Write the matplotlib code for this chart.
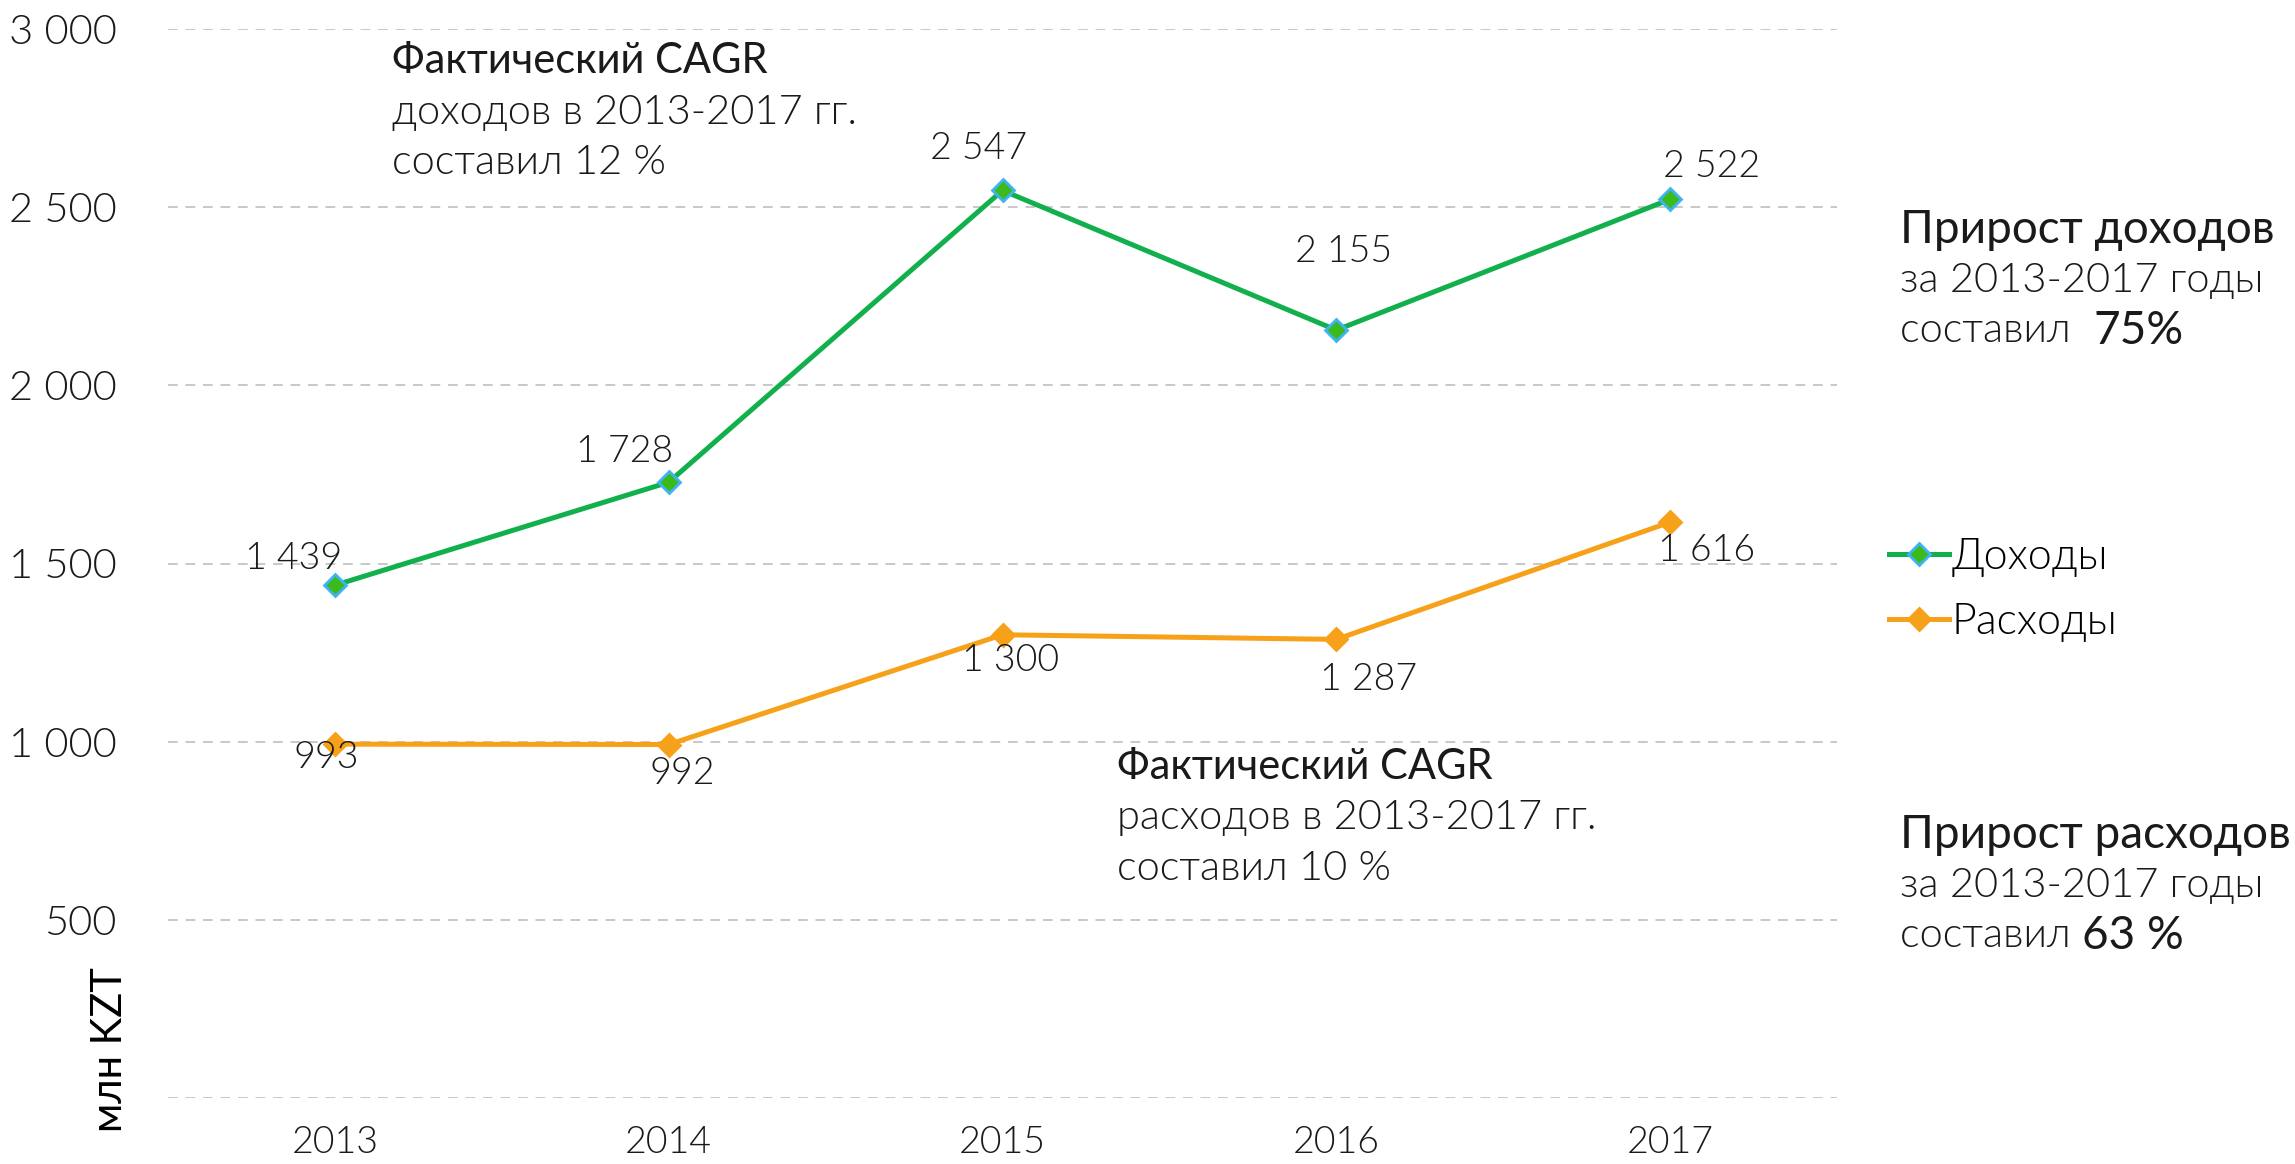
import matplotlib
matplotlib.use('Agg')
import matplotlib.pyplot as plt

plt.rcParams['font.family'] = ['Lato', 'DejaVu Sans']

YEARS = ['2013', '2014', '2015', '2016', '2017']
INCOME = [1439, 1728, 2547, 2155, 2522]
EXPENSES = [993, 992, 1300, 1287, 1616]
Y_TICKS = [0, 500, 1000, 1500, 2000, 2500, 3000]

GREEN = '#12b04c'
GREEN_FILL = '#3cba1c'
GREEN_EDGE = '#3fb4f5'
ORANGE = '#f7a11a'
GRID = '#c8c8c8'
TEXT = '#1a1a1a'
LIGHT = 300

# label offsets in points (dx, dy) for each data label
INCOME_OFFSETS = [(-30, 19), (-32, 22), (-17, 30), (5, 56), (30, 23)]
EXPENSE_OFFSETS = [(-6, -10), (10, -21), (6, -19), (23, -29), (26, -21)]

BODY_SIZE = 30
HEAD_SIZE = 33
TICK_SIZE = 30
LABEL_SIZE = 27
LEGEND_SIZE = 31


def fmt(v):
    return '{:,}'.format(v).replace(',', ' ')


fig = plt.figure(figsize=(22.95, 11.64), dpi=100)
ax = fig.add_axes([168 / 2295, 1 - 1098 / 1164, (1837 - 168) / 2295,
                   (1098 - 29) / 1164])

x = list(range(len(YEARS)))
ax.plot(x, INCOME, color=GREEN, lw=3.6, marker='D', ms=11,
        mfc=GREEN_FILL, mec=GREEN_EDGE, mew=2, label='Доходы', zorder=4)
ax.plot(x, EXPENSES, color=ORANGE, lw=3.6, marker='D', ms=11,
        mfc=ORANGE, mec=ORANGE, mew=2, label='Расходы', zorder=4)

for xi, v, off in zip(x, INCOME, INCOME_OFFSETS):
    ax.annotate(fmt(v), (xi, v), xytext=off, textcoords='offset points',
                ha='center', va='center', fontsize=LABEL_SIZE,
                fontweight=LIGHT, color=TEXT, zorder=5)
for xi, v, off in zip(x, EXPENSES, EXPENSE_OFFSETS):
    ax.annotate(fmt(v), (xi, v), xytext=off, textcoords='offset points',
                ha='center', va='center', fontsize=LABEL_SIZE,
                fontweight=LIGHT, color=TEXT, zorder=5)

ax.set_xlim(-0.5, 4.5)
ax.set_ylim(0, 3000)
ax.set_xticks(x)
ax.set_xticklabels(YEARS)
ax.set_yticks(Y_TICKS)
ax.set_yticklabels([fmt(t) if t else '' for t in Y_TICKS])
ax.tick_params(axis='both', length=0, labelsize=TICK_SIZE, colors=TEXT)
ax.tick_params(axis='x', labelsize=27)
ax.tick_params(axis='y', pad=37)
ax.tick_params(axis='x', pad=20)
for lbl in ax.get_xticklabels() + ax.get_yticklabels():
    lbl.set_fontweight(LIGHT)
ax.grid(axis='y', color=GRID, ls=(0, (5, 4)), lw=1.4)
ax.set_axisbelow(True)
for s in ax.spines.values():
    s.set_visible(False)

fig.text(75 / 1568, 1 - 717 / 795, 'млн KZT', rotation=90, ha='center',
         va='center', fontsize=BODY_SIZE, color='black')

fig.legend(loc='center left', bbox_to_anchor=(1264 / 1568, 1 - 403 / 795),
           frameon=False, handlelength=1.4, handletextpad=0.05,
           labelspacing=0.62, prop={'weight': LIGHT, 'size': LEGEND_SIZE})


def block(xd, yd, lines, dy=34.5):
    # lines: list of [(text, weight, size), ...] drawn left to right
    for i, parts in enumerate(lines):
        t = None
        for text, weight, size in parts:
            if t is None:
                t = fig.text(xd / 1568, 1 - (yd + i * dy) / 795, text,
                             fontsize=size, fontweight=weight,
                             color=TEXT, ha='left', va='center')
            else:
                t = ax.annotate(text, xy=(1, 0.5), xycoords=t,
                                xytext=(0, 0), textcoords='offset points',
                                fontsize=size, fontweight=weight,
                                color=TEXT, ha='left', va='center')


block(268, 42, [[('Фактический CAGR', 'normal', BODY_SIZE)],
                [('доходов в 2013-2017 гг.', LIGHT, BODY_SIZE)],
                [('составил 12 %', LIGHT, BODY_SIZE)]])
block(763, 524, [[('Фактический CAGR', 'normal', BODY_SIZE)],
                 [('расходов в 2013-2017 гг.', LIGHT, BODY_SIZE)],
                 [('составил 10 %', LIGHT, BODY_SIZE)]])
block(1298, 157, [[('Прирост доходов', 'normal', HEAD_SIZE)],
                  [('за 2013-2017 годы', LIGHT, BODY_SIZE)],
                  [('составил  ', LIGHT, BODY_SIZE),
                   ('75%', 'normal', HEAD_SIZE)]])
block(1298, 570, [[('Прирост расходов', 'normal', HEAD_SIZE)],
                  [('за 2013-2017 годы', LIGHT, BODY_SIZE)],
                  [('составил ', LIGHT, BODY_SIZE),
                   ('63 %', 'normal', HEAD_SIZE)]])

fig.savefig('out.png', dpi=100)
